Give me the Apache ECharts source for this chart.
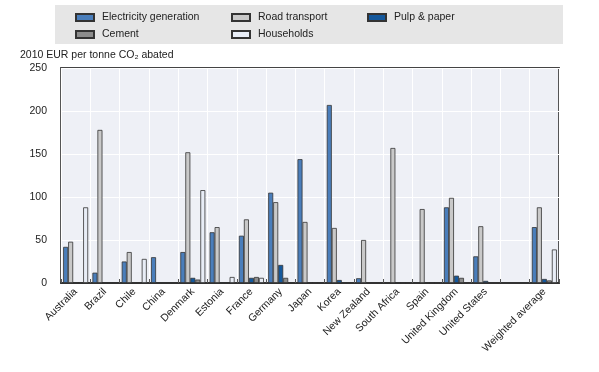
<!DOCTYPE html>
<html><head><meta charset="utf-8">
<script src="https://cdn.jsdelivr.net/npm/echarts@6/dist/echarts.min.js"></script>
<style>html,body{margin:0;padding:0;background:#fff}#c{width:599px;height:372px}</style>
</head><body><div id="c"></div>
<script>
const categories = ['Australia','Brazil','Chile','China','Denmark','Estonia','France','Germany','Japan','Korea','New Zealand','South Africa','Spain','United Kingdom','United States','','Weighted average'];
const electricity = [42, 12, 25, 30, 36, 59, 55, 105, 144, 207, 5.5, 0, 0, 88, 31, null, 65];
const road        = [48, 178, 36, 0, 152, 65, 74, 94, 71, 64, 50, 157, 86, 99, 66, null, 88];
const pulp        = [1, 0, 0.5, 0, 6, 0, 6, 21, 1, 3.5, 0.5, 0, 0, 8.5, 2.5, null, 4.7];
const cement      = [1, 0, 0, 0, 4, 0, 7, 6, 1, 0, 0, 0, 0, 6, 0, null, 3];
const households  = [88, 0, 28, 0, 108, 7, 6, 0, 0, 0, 0, 0, 0, 0, 0, null, 39];
const yTicks = [0, 50, 100, 150, 200, 250];

const FONT = "'Liberation Sans Narrow','Liberation Sans',Arial,sans-serif";
const FS = 10.5;
const border = {borderColor:'#333', borderWidth:0.8};
function bar(name, data, color){
  return {name, type:'bar', data, barWidth:5, barGap:'0%',
    itemStyle:Object.assign({color}, border)};
}
const legendBase = {orient:'vertical', top:7, itemWidth:18, itemHeight:7, itemGap:6, icon:'rect',
  textStyle:{fontSize:FS,color:'#222',fontFamily:FONT,padding:[0,0,0,3]}};
const chart = echarts.init(document.getElementById('c'), null, {renderer:'canvas'});
chart.setOption({
  animation:false,
  textStyle:{fontFamily:FONT},
  graphic:[
    {type:'rect', shape:{x:55,y:5,width:508,height:39}, style:{fill:'#e6e6e6'}, z:-1},
    {type:'text', left:20, top:50, style:{text:'2010 EUR per tonne CO₂ abated', fontSize:FS, fontFamily:FONT, fill:'#222'}}
  ],
  legend:[
    Object.assign({left:70, data:['Electricity generation','Cement']}, legendBase),
    Object.assign({left:226, data:['Road transport','Households']}, legendBase),
    Object.assign({left:362, data:['Pulp & paper']}, legendBase)
  ],
  grid:{left:61, right:40, top:68, bottom:89, show:true, backgroundColor:'#eef0f6', borderColor:'#444', borderWidth:1.8},
  xAxis:{type:'category', data:categories,
    axisLine:{show:true, lineStyle:{color:'#333', width:1.8}},
    axisTick:{show:true, inside:true, length:4, lineStyle:{color:'#555'}},
    splitLine:{show:true, lineStyle:{color:'#ffffff', width:1}},
    axisLabel:{rotate:45, fontSize:FS, color:'#222', fontFamily:FONT, interval:0, margin:7}},
  yAxis:{type:'value', min:0, max:250, interval:50,
    axisLine:{show:false}, axisTick:{show:false},
    splitLine:{lineStyle:{color:'#ffffff', width:1}},
    axisLabel:{fontSize:FS, color:'#222', fontFamily:FONT, margin:14,
      formatter:v=>yTicks.includes(v)?String(v):''}},
  series:[
    bar('Electricity generation', electricity, '#4a7ebb'),
    bar('Road transport', road, '#c9c9c9'),
    bar('Pulp & paper', pulp, '#14589c'),
    bar('Cement', cement, '#8c8c8c'),
    bar('Households', households, '#e8edf6')
  ]
});
</script></body></html>
